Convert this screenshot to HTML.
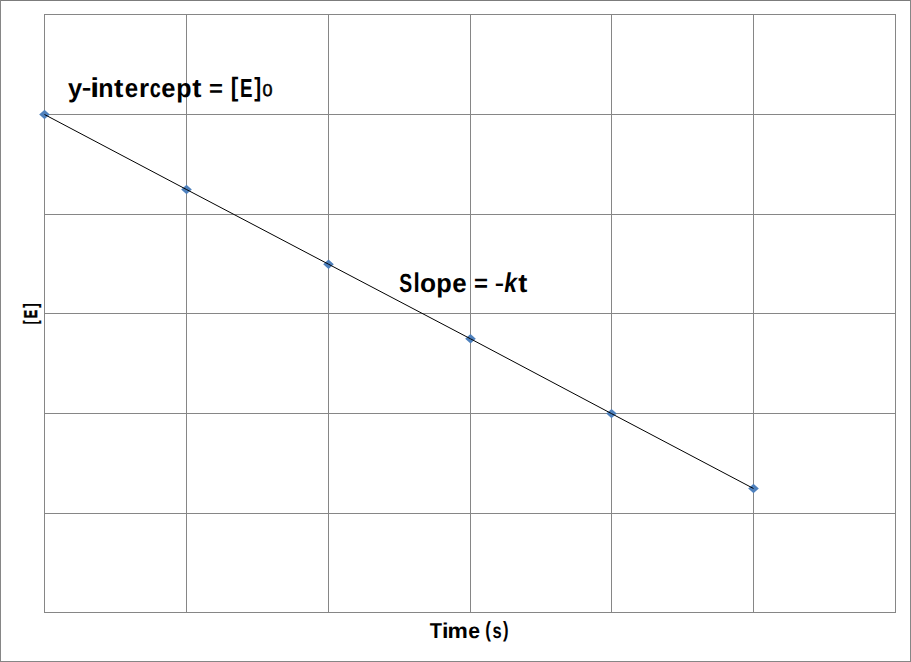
<!DOCTYPE html>
<html><head><meta charset="utf-8">
<style>
html,body{margin:0;padding:0;background:#fff;}
body{width:911px;height:662px;position:relative;overflow:hidden;}
svg{position:absolute;left:0;top:0;}
text{font-family:"Liberation Sans",sans-serif;fill:#000;text-rendering:geometricPrecision;}
</style></head><body>
<svg width="911" height="662" viewBox="0 0 911 662">
<g shape-rendering="crispEdges" fill="#868686">
<rect x="0" y="0" width="911" height="1" fill="#7c7c7c"/>
<rect x="0" y="661" width="911" height="1"/>
<rect x="0" y="0" width="1" height="662"/>
<rect x="910" y="0" width="1" height="662"/>
<rect x="44" y="14" width="1" height="599"/>
<rect x="186" y="14" width="1" height="599"/>
<rect x="328" y="14" width="1" height="599"/>
<rect x="470" y="14" width="1" height="599"/>
<rect x="611" y="14" width="1" height="599"/>
<rect x="753" y="14" width="1" height="599"/>
<rect x="895" y="14" width="1" height="599"/>
<rect x="44" y="14" width="852" height="1"/>
<rect x="44" y="114" width="852" height="1"/>
<rect x="44" y="214" width="852" height="1"/>
<rect x="44" y="313" width="852" height="1"/>
<rect x="44" y="413" width="852" height="1"/>
<rect x="44" y="513" width="852" height="1"/>
<rect x="44" y="612" width="852" height="1"/>
</g>
<g fill="#4F81BD">
<path d="M44.5 109.8 L49.8 114.5 L44.5 119.2 L39.2 114.5Z"/>
<path d="M186.5 184.8 L191.8 189.5 L186.5 194.2 L181.2 189.5Z"/>
<path d="M328.5 259.5 L333.8 264.2 L328.5 268.9 L323.2 264.2Z"/>
<path d="M470.5 334.1 L475.8 338.8 L470.5 343.5 L465.2 338.8Z"/>
<path d="M611.5 408.90000000000003 L616.8 413.6 L611.5 418.3 L606.2 413.6Z"/>
<path d="M753.5 483.8 L758.8 488.5 L753.5 493.2 L748.2 488.5Z"/>
</g>
<polyline points="44.5,114.5 186.5,189.5 328.5,264.2 470.5,338.8 611.5,413.6 753.5,488.5" fill="none" stroke="#000" stroke-width="1"/>
<text transform="translate(67.90 96.90) scale(0.978 1.000)" font-size="26" font-weight="bold" font-style="normal">y</text>
<text transform="translate(81.68 95.16) scale(1.106 0.839)" font-size="26" font-weight="bold" font-style="normal">-</text>
<text transform="translate(90.26 96.90) scale(1.233 1.051)" font-size="26" font-weight="bold" font-style="normal">i</text>
<text transform="translate(98.25 96.90) scale(0.964 1.000)" font-size="26" font-weight="bold" font-style="normal">n</text>
<text transform="translate(114.06 96.90) scale(1.084 1.000)" font-size="26" font-weight="bold" font-style="normal">t</text>
<text transform="translate(124.86 96.90) scale(0.924 1.000)" font-size="26" font-weight="bold" font-style="normal">e</text>
<text transform="translate(138.89 96.90) scale(0.999 1.000)" font-size="26" font-weight="bold" font-style="normal">r</text>
<text transform="translate(149.72 96.90) scale(0.765 1.000)" font-size="26" font-weight="bold" font-style="normal">c</text>
<text transform="translate(161.31 96.90) scale(0.980 1.000)" font-size="26" font-weight="bold" font-style="normal">e</text>
<text transform="translate(176.35 96.90) scale(0.962 1.000)" font-size="26" font-weight="bold" font-style="normal">p</text>
<text transform="translate(192.16 96.90) scale(1.059 1.000)" font-size="26" font-weight="bold" font-style="normal">t</text>
<text transform="translate(209.11 96.07) scale(0.920 0.885)" font-size="26" font-weight="bold" font-style="normal">=</text>
<text transform="translate(230.83 96.16) scale(0.872 1.027)" font-size="26" font-weight="bold" font-style="normal">[</text>
<text transform="translate(239.95 96.90) scale(0.720 1.000)" font-size="26" font-weight="bold" font-style="normal">E</text>
<text transform="translate(254.15 96.07) scale(0.799 1.007)" font-size="26" font-weight="bold" font-style="normal">]</text>
<text transform="translate(262.60 96.13) scale(1.011 0.960)" font-size="17.8" font-weight="normal" font-style="normal" stroke="#000" stroke-width="0.5">0</text>
<text transform="translate(399.34 291.70) scale(0.745 1.000)" font-size="26" font-weight="bold" font-style="normal">S</text>
<text transform="translate(413.52 291.70) scale(0.869 1.046)" font-size="26" font-weight="bold" font-style="normal">l</text>
<text transform="translate(420.07 291.70) scale(1.011 1.000)" font-size="26" font-weight="bold" font-style="normal">o</text>
<text transform="translate(436.33 291.70) scale(0.977 1.000)" font-size="26" font-weight="bold" font-style="normal">p</text>
<text transform="translate(452.29 291.70) scale(0.996 1.000)" font-size="26" font-weight="bold" font-style="normal">e</text>
<text transform="translate(474.11 291.05) scale(0.920 0.906)" font-size="26" font-weight="bold" font-style="normal">=</text>
<text transform="translate(494.71 289.82) scale(1.076 0.775)" font-size="26" font-weight="bold" font-style="normal">-</text>
<text transform="translate(504.21 291.70) scale(0.881 1.046)" font-size="26" font-weight="bold" font-style="italic">k</text>
<text transform="translate(518.27 291.70) scale(1.047 1.000)" font-size="26" font-weight="bold" font-style="normal">t</text>
<text transform="translate(429.67 637.80) scale(0.932 1.000)" font-size="21.5" font-weight="bold" font-style="normal">T</text>
<text transform="translate(441.97 637.80) scale(1.085 1.000)" font-size="21.5" font-weight="bold" font-style="normal">i</text>
<text transform="translate(447.59 637.80) scale(1.063 1.000)" font-size="21.5" font-weight="bold" font-style="normal">m</text>
<text transform="translate(468.17 637.80) scale(0.982 1.000)" font-size="21.5" font-weight="bold" font-style="normal">e</text>
<text transform="translate(485.35 637.21) scale(0.791 1.028)" font-size="21.5" font-weight="bold" font-style="normal">(</text>
<text transform="translate(492.42 637.80) scale(0.766 1.000)" font-size="21.5" font-weight="bold" font-style="normal">s</text>
<text transform="translate(502.98 637.21) scale(0.775 1.028)" font-size="21.5" font-weight="bold" font-style="normal">)</text>
<g transform="translate(36.8 0) rotate(-90)">
<text transform="translate(-324.21 -0.11) scale(0.633 1.044)" font-size="18.5" font-weight="bold" font-style="normal" stroke="#000" stroke-width="0.3">[</text>
<text transform="translate(-318.33 0.00) scale(0.674 1.000)" font-size="18.5" font-weight="bold" font-style="normal" stroke="#000" stroke-width="0.6">E</text>
<text transform="translate(-307.81 -0.11) scale(0.715 1.044)" font-size="18.5" font-weight="bold" font-style="normal" stroke="#000" stroke-width="0.3">]</text>
</g>
</svg>
</body></html>
